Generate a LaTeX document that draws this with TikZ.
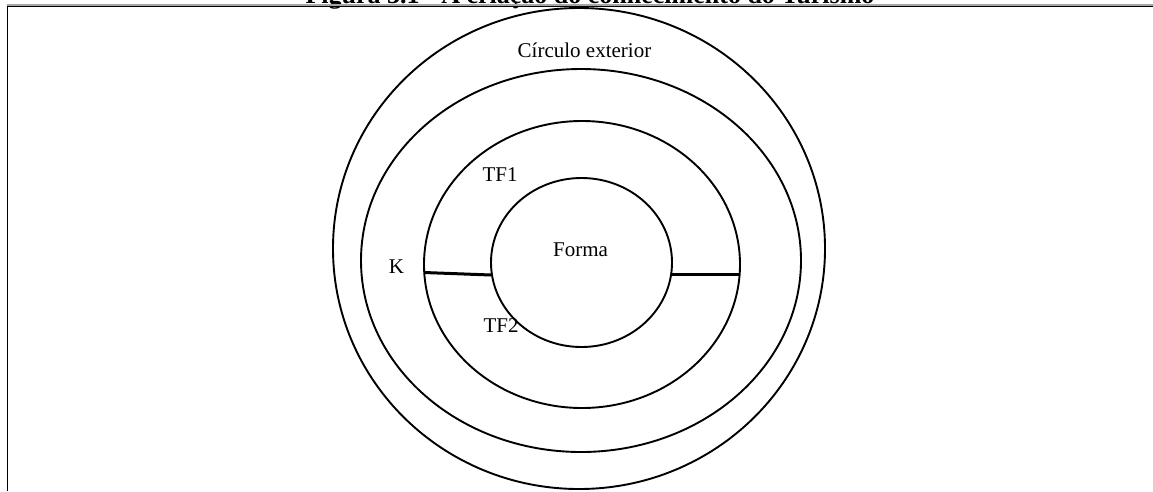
\documentclass[tikz,border=0pt]{standalone}
\usepackage{fontspec}
\setmainfont{Liberation Serif}
\usetikzlibrary{shapes.geometric}

\tikzset{
  ring/.style={draw, ellipse, line width=1.9pt, inner sep=0pt, outer sep=0pt},
  link/.style={line width=3pt},
  lbl/.style={anchor=base, inner sep=0pt, font=\fontsize{21}{25}\selectfont},
  frameline/.style={line width=1.7pt},
}

\begin{document}
\begin{tikzpicture}[x=1pt, y=-1pt]
  \useasboundingbox (0,0) rectangle (1153,491);

  % caption above the frame (only its lower part falls inside the page)
  \node[anchor=base, inner sep=0pt, font=\bfseries\fontsize{26}{30}\selectfont]
    (caption) at (590,3.5) {Figura 3.1 - A criação do conhecimento do Turismo};

  % frame: doubled top rule and left rule
  \draw[gray!70, line width=1.2pt] (7,4.9) -- (1153,4.9);
  \draw[frameline] (7,6.5) -- (1153,6.5);
  \draw[frameline] (7.6,5.8) -- (7.6,491);

  % concentric rings
  \node[ring, minimum width=492pt, minimum height=481pt] (outer) at (579,248.5) {};
  \node[ring, minimum width=440pt, minimum height=383pt] (ringK) at (581,260.5) {};
  \node[ring, minimum width=316pt, minimum height=287pt] (ringTF) at (582,264.5) {};
  \node[ring, minimum width=181pt, minimum height=169pt] (forma) at (581.5,262.5) {};

  % bars splitting the TF ring
  \draw[link] ([yshift=-8pt]ringTF.west) -- ([yshift=-12.5pt]forma.west);
  \draw[link] ([yshift=-11.5pt]forma.east) -- ([yshift=-9.5pt]ringTF.east);

  % labels
  \node[lbl] (tOuter) at (584.5,57) {Círculo exterior};
  \node[lbl] (tForma) at (580.5,256) {Forma};
  \node[lbl] (tTF1) at (500,181) {TF1};
  \node[lbl] (tK) at (396.5,273) {K};
  \node[lbl] (tTF2) at (501,332) {TF2};
\end{tikzpicture}
\end{document}
